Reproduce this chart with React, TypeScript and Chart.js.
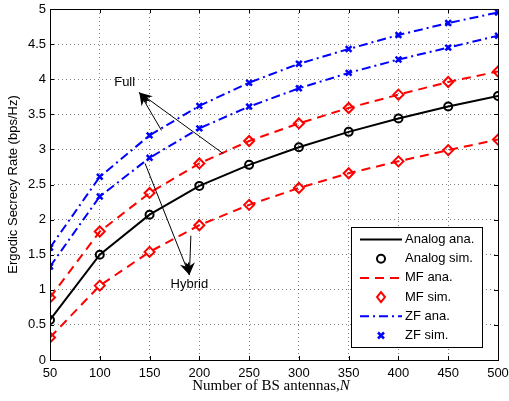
import React, { useEffect, useRef } from "react";
import { Chart, registerables } from "chart.js";
Chart.register(...registerables);

const antennas = [50, 100, 150, 200, 250, 300, 350, 400, 450, 500];
const analog = [0.57, 1.5, 2.07, 2.48, 2.78, 3.03, 3.25, 3.44, 3.61, 3.76];
const mfFull = [0.89, 1.83, 2.38, 2.8, 3.12, 3.37, 3.59, 3.78, 3.96, 4.11];
const mfHybrid = [0.32, 1.06, 1.54, 1.92, 2.21, 2.45, 2.66, 2.83, 2.99, 3.14];
const zfFull = [1.6, 2.61, 3.2, 3.62, 3.95, 4.22, 4.43, 4.63, 4.8, 4.95];
const zfHybrid = [1.33, 2.33, 2.88, 3.3, 3.61, 3.87, 4.09, 4.28, 4.45, 4.62];
const xTicks = [50, 100, 150, 200, 250, 300, 350, 400, 450, 500];
const yTicks = [0, 0.5, 1, 1.5, 2, 2.5, 3, 3.5, 4, 4.5, 5];
const legendLabels = ["Analog ana.", "Analog sim.", "MF ana.", "MF sim.", "ZF ana.", "ZF sim."];
const yTitle = "Ergodic Secrecy Rate (bps/Hz)";
const xTitleMain = "Number of BS antennas,";
const xTitleVar = "N";
// annotation text and arrows in data coordinates
const fullLabel = { text: "Full", x: 125, y: 3.95 };
const fullArrows = [
  { from: [224, 2.94], to: [139.7, 3.81] },
  { from: [162, 3.27], to: [139.7, 3.81] },
];
const hybridLabel = { text: "Hybrid", x: 190, y: 1.07 };
const hybridArrows = [
  { from: [145.5, 2.8], to: [190, 1.21] },
  { from: [191.5, 1.77], to: [190, 1.21] },
];

const SANS = '"Liberation Sans", Arial, sans-serif';
const SERIF = '"Liberation Serif", "Times New Roman", serif';
const RED = "#ff0000";
const BLUE = "#0000ff";
const BLACK = "#000000";
const MF_DASH = [9, 6];
const ZF_DASH = [9, 4, 2, 4];

const pts = (ys: number[]) => antennas.map((x, i) => ({ x, y: ys[i] }));

function lineDs(label: string, ys: number[], color: string, dash: number[]) {
  return {
    label,
    data: pts(ys),
    borderColor: color,
    backgroundColor: color,
    borderWidth: 2,
    borderDash: dash,
    pointRadius: 0,
    tension: 0,
    fill: false,
  };
}
function markDs(label: string, ys: number[], color: string, style: string, r: number, bw: number) {
  return {
    label,
    data: pts(ys),
    showLine: false,
    borderColor: color,
    backgroundColor: "rgba(0,0,0,0)",
    pointStyle: style,
    pointRadius: r,
    pointBorderWidth: bw,
    pointBorderColor: color,
    pointBackgroundColor: "rgba(0,0,0,0)",
  };
}

function drawArrow(ctx: CanvasRenderingContext2D, x1: number, y1: number, x2: number, y2: number) {
  ctx.save();
  ctx.strokeStyle = BLACK;
  ctx.fillStyle = BLACK;
  ctx.lineWidth = 1;
  ctx.setLineDash([]);
  ctx.beginPath();
  ctx.moveTo(x1, y1);
  ctx.lineTo(x2, y2);
  ctx.stroke();
  const a = Math.atan2(y2 - y1, x2 - x1);
  const L = 13;
  const W = 5;
  const ux = Math.cos(a), uy = Math.sin(a);
  const px = -uy, py = ux;
  const bx = x2 - ux * L, by = y2 - uy * L;
  const nx = x2 - ux * L * 0.7, ny = y2 - uy * L * 0.7;
  ctx.beginPath();
  ctx.moveTo(x2, y2);
  ctx.lineTo(bx + px * W, by + py * W);
  ctx.lineTo(nx, ny);
  ctx.lineTo(bx - px * W, by - py * W);
  ctx.closePath();
  ctx.fill();
  ctx.restore();
}

const overlay = {
  id: "overlay",
  afterDraw(chart: any) {
    const ctx: CanvasRenderingContext2D = chart.ctx;
    const { left, right, top, bottom } = chart.chartArea;
    const xs = chart.scales.x;
    const ys = chart.scales.y;
    ctx.save();
    // frame
    ctx.strokeStyle = BLACK;
    ctx.lineWidth = 1;
    ctx.setLineDash([]);
    ctx.strokeRect(Math.round(left) + 0.5, Math.round(top) + 0.5, Math.round(right - left), Math.round(bottom - top));
    // inner ticks
    ctx.beginPath();
    xTicks.forEach((v) => {
      const p = Math.round(xs.getPixelForValue(v)) + 0.5;
      ctx.moveTo(p, bottom);
      ctx.lineTo(p, bottom - 4);
      ctx.moveTo(p, top);
      ctx.lineTo(p, top + 4);
    });
    yTicks.forEach((v) => {
      const p = Math.round(ys.getPixelForValue(v)) + 0.5;
      ctx.moveTo(left, p);
      ctx.lineTo(left + 4, p);
      ctx.moveTo(right, p);
      ctx.lineTo(right - 4, p);
    });
    ctx.stroke();

    // annotations
    const conv = (p: number[]) => [xs.getPixelForValue(p[0]), ys.getPixelForValue(p[1])];
    [...fullArrows, ...hybridArrows].forEach((ar) => {
      const f = conv(ar.from);
      const t = conv(ar.to);
      drawArrow(ctx, f[0], f[1], t[0], t[1]);
    });
    ctx.fillStyle = BLACK;
    ctx.font = `13px ${SANS}`;
    ctx.textAlign = "center";
    ctx.textBaseline = "middle";
    [fullLabel, hybridLabel].forEach((l) => {
      ctx.fillText(l.text, xs.getPixelForValue(l.x), ys.getPixelForValue(l.y));
    });

    // legend
    const lx = 351, ly = 227, lw = 131, lh = 120;
    ctx.fillStyle = "#ffffff";
    ctx.fillRect(lx, ly, lw, lh);
    ctx.strokeStyle = BLACK;
    ctx.lineWidth = 1;
    ctx.strokeRect(lx + 0.5, ly + 0.5, lw, lh);
    const styles = [
      { kind: "line", color: BLACK, dash: [] as number[] },
      { kind: "circle", color: BLACK },
      { kind: "line", color: RED, dash: MF_DASH },
      { kind: "diamond", color: RED },
      { kind: "line", color: BLUE, dash: ZF_DASH },
      { kind: "cross", color: BLUE },
    ];
    legendLabels.forEach((lab, i) => {
      const y = ly + 12.5 + i * 19.2;
      const st: any = styles[i];
      const x0 = 360, x1 = 402, xc = 381;
      ctx.save();
      ctx.strokeStyle = st.color;
      ctx.lineWidth = 2;
      if (st.kind === "line") {
        ctx.setLineDash(st.dash);
        ctx.beginPath();
        ctx.moveTo(x0, y);
        ctx.lineTo(x1, y);
        ctx.stroke();
      } else if (st.kind === "circle") {
        ctx.beginPath();
        ctx.arc(xc, y, 4, 0, Math.PI * 2);
        ctx.stroke();
      } else if (st.kind === "diamond") {
        const r = 5;
        ctx.beginPath();
        ctx.moveTo(xc, y - r);
        ctx.lineTo(xc + r * 0.8, y);
        ctx.lineTo(xc, y + r);
        ctx.lineTo(xc - r * 0.8, y);
        ctx.closePath();
        ctx.stroke();
      } else {
        ctx.lineWidth = 2.5;
        const r = 3;
        ctx.beginPath();
        ctx.moveTo(xc - r, y - r);
        ctx.lineTo(xc + r, y + r);
        ctx.moveTo(xc + r, y - r);
        ctx.lineTo(xc - r, y + r);
        ctx.stroke();
      }
      ctx.restore();
      ctx.fillStyle = BLACK;
      ctx.font = `13px ${SANS}`;
      ctx.textAlign = "left";
      ctx.textBaseline = "middle";
      ctx.fillText(lab, 405, y);
    });

    // axis titles
    ctx.fillStyle = BLACK;
    ctx.font = `13px ${SANS}`;
    ctx.save();
    ctx.translate(13, (top + bottom) / 2);
    ctx.rotate(-Math.PI / 2);
    ctx.textAlign = "center";
    ctx.textBaseline = "middle";
    ctx.fillText(yTitle, 0, 0);
    ctx.restore();

    ctx.font = `15px ${SERIF}`;
    const w1 = ctx.measureText(xTitleMain).width;
    ctx.font = `italic 15px ${SERIF}`;
    const w2 = ctx.measureText(xTitleVar).width;
    const cx = 271;
    const sx = cx - (w1 + w2) / 2;
    ctx.textAlign = "left";
    ctx.textBaseline = "middle";
    ctx.font = `15px ${SERIF}`;
    ctx.fillText(xTitleMain, sx, 386);
    ctx.font = `italic 15px ${SERIF}`;
    ctx.fillText(xTitleVar, sx + w1, 386);
    ctx.restore();
  },
};

export default function App() {
  const ref = useRef<HTMLCanvasElement | null>(null);
  useEffect(() => {
    document.body.style.margin = "0";
    const canvas = ref.current;
    if (!canvas) return;
    const chart = new Chart(canvas, {
      type: "line",
      data: {
        datasets: [
          lineDs("ZF ana. full", zfFull, BLUE, ZF_DASH),
          lineDs("ZF ana. hybrid", zfHybrid, BLUE, ZF_DASH),
          lineDs("MF ana. full", mfFull, RED, MF_DASH),
          lineDs("MF ana. hybrid", mfHybrid, RED, MF_DASH),
          lineDs("Analog ana.", analog, BLACK, []),
          markDs("ZF sim. full", zfFull, BLUE, "crossRot", 4, 2.5),
          markDs("ZF sim. hybrid", zfHybrid, BLUE, "crossRot", 4, 2.5),
          markDs("MF sim. full", mfFull, RED, "rectRot", 5, 2),
          markDs("MF sim. hybrid", mfHybrid, RED, "rectRot", 5, 2),
          markDs("Analog sim.", analog, BLACK, "circle", 4, 2),
        ] as any,
      },
      options: {
        responsive: false,
        animation: false,
        devicePixelRatio: 1,
        layout: { padding: { top: 9, right: 11, left: 0, bottom: 0 } },
        plugins: { legend: { display: false }, tooltip: { enabled: false } },
        scales: {
          x: {
            type: "linear",
            min: 50,
            max: 500,
            afterBuildTicks: (s: any) => {
              s.ticks = xTicks.map((v) => ({ value: v }));
            },
            afterFit: (s: any) => {
              s.height = 41;
              s.paddingLeft = 0;
              s.paddingRight = 0;
            },
            ticks: {
              color: BLACK,
              font: { family: SANS, size: 13 },
              padding: 6,
              maxRotation: 0,
              callback: (v: any) => String(v),
            },
            grid: { color: "rgba(0,0,0,0.5)", lineWidth: 1, drawTicks: false },
            border: { display: false, dash: [1, 3] },
          },
          y: {
            type: "linear",
            min: 0,
            max: 5,
            afterBuildTicks: (s: any) => {
              s.ticks = yTicks.map((v) => ({ value: v }));
            },
            afterFit: (s: any) => {
              s.width = 50;
              s.paddingTop = 0;
              s.paddingBottom = 0;
            },
            ticks: {
              color: BLACK,
              font: { family: SANS, size: 13 },
              padding: 4,
              callback: (v: any) => String(v),
            },
            grid: { color: "rgba(0,0,0,0.5)", lineWidth: 1, drawTicks: false },
            border: { display: false, dash: [1, 3] },
          },
        },
      } as any,
      plugins: [overlay],
    });
    return () => chart.destroy();
  }, []);
  return <canvas ref={ref} width={509} height={401} style={{ display: "block" }} />;
}
